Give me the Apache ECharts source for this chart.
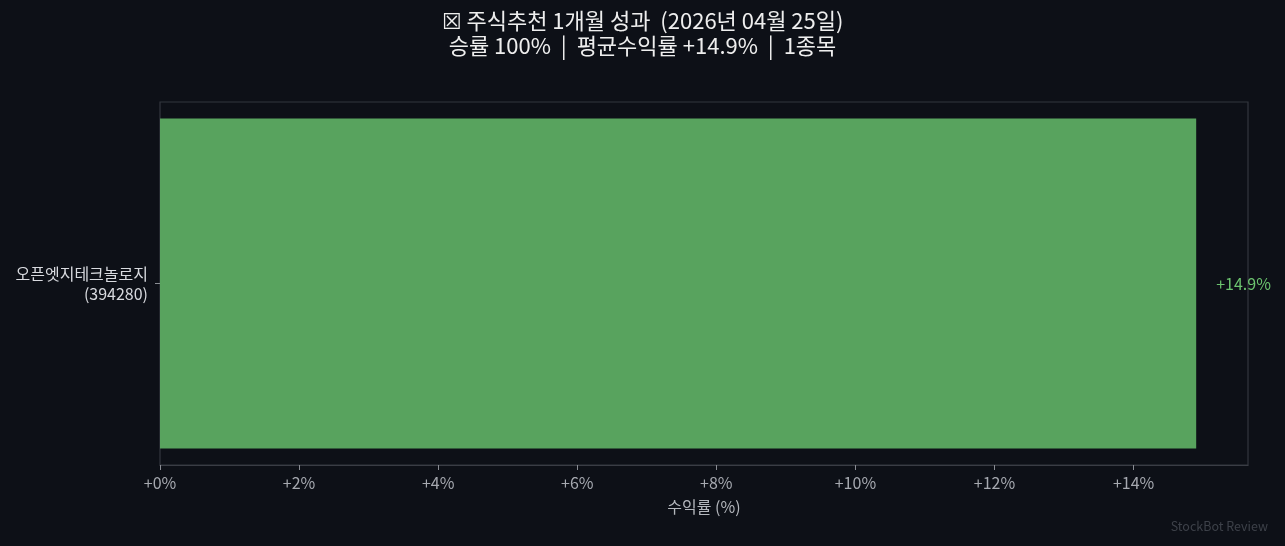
<!DOCTYPE html>
<html>
<head>
<meta charset="utf-8">
<script src="https://cdn.jsdelivr.net/npm/echarts@6/dist/echarts.min.js"></script>
<style>
html,body{margin:0;padding:0;background:#0d1017;}
#c{width:1285px;height:546px;}
</style>
</head>
<body>
<div id="c"></div>
<script>
const titleLines = ['☒ 주식추천 1개월 성과  (2026년 04월 25일)', '승률 100%  |  평균수익률 +14.9%  |  1종목'];
const categories = ['오픈엣지테크놀로지\n(394280)'];
const returns = [14.9];
const xTicks = [0, 2, 4, 6, 8, 10, 12, 14];
const xMax = 15.645;
const xName = '수익률 (%)';
const watermark = 'StockBot Review';

const FONT = '"Noto Sans CJK KR", "Noto Sans", sans-serif';
const chart = echarts.init(document.getElementById('c'));
chart.setOption({
  backgroundColor: '#0d1017',
  textStyle: { fontFamily: FONT },
  title: {
    text: titleLines.join('\n'),
    left: 'center', top: 3,
    textStyle: { color: '#eeeeee', fontSize: 22, fontWeight: 'normal', lineHeight: 25, fontFamily: FONT }
  },
  graphic: [{
    type: 'text', right: 17, bottom: 13,
    style: { text: watermark, fill: '#3d4149', fontSize: 12.5, fontFamily: FONT }
  }],
  grid: {
    left: 160, right: 37, top: 102, bottom: 81,
    show: true, borderColor: '#33363e', borderWidth: 1.2, backgroundColor: 'transparent'
  },
  xAxis: {
    type: 'value', min: 0, max: xMax,
    name: xName, nameLocation: 'middle', nameGap: 34,
    nameTextStyle: { color: '#b4b7bd', fontSize: 16, fontFamily: FONT },
    axisLine: { show: true, lineStyle: { color: '#3a3d45', width: 1.2 } },
    axisTick: { show: true, length: 5, lineStyle: { color: '#8a8d94' }, customValues: xTicks },
    axisLabel: { color: '#a6a9b0', fontSize: 16, margin: 10, customValues: xTicks,
      formatter: v => '+' + v + '%' },
    splitLine: { show: false }
  },
  yAxis: {
    type: 'category', data: categories,
    axisLine: { show: false },
    axisTick: { show: true, length: 5, alignWithLabel: true, lineStyle: { color: '#8a8d94' } },
    axisLabel: { color: '#d8dadf', fontSize: 16, lineHeight: 20, margin: 12, align: 'right' }
  },
  series: [{
    type: 'bar', data: returns, barWidth: '90.9%',
    itemStyle: { color: '#58a35e' },
    label: {
      show: true, position: 'right', distance: 20,
      color: '#6cc46f', fontSize: 16, fontFamily: FONT,
      formatter: p => '+' + p.value.toFixed(1) + '%'
    },
    silent: true
  }]
});
</script>
</body>
</html>
